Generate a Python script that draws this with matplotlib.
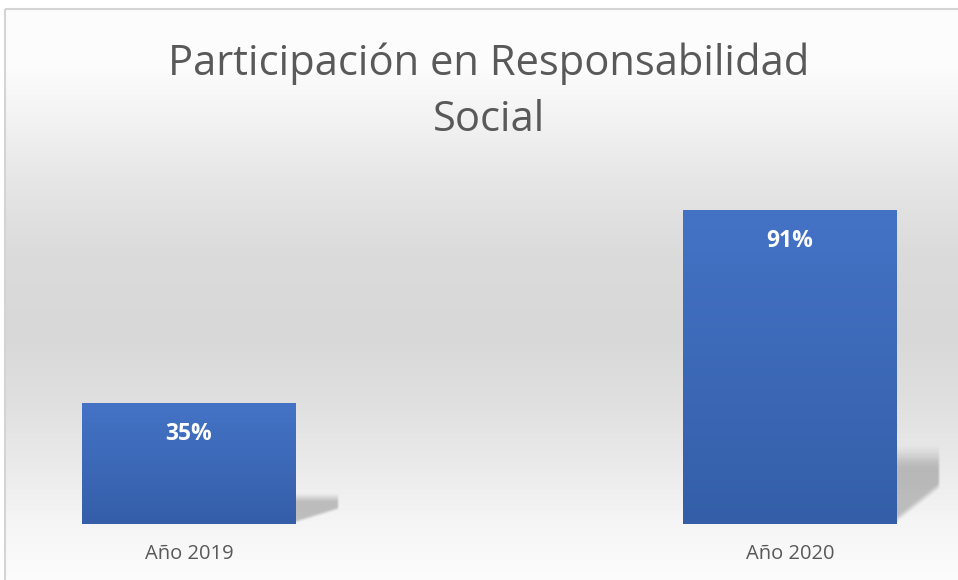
import numpy as np
import matplotlib
matplotlib.use("Agg")
import matplotlib.pyplot as plt
from matplotlib.patches import Rectangle

categories = ["Año 2019", "Año 2020"]
values = [35, 91]
labels = ["35%", "91%"]
title = "Participación en Responsabilidad\nSocial"

W, H = 958, 580
fig = plt.figure(figsize=(W / 100, H / 100), dpi=100)

# background gradient (white -> gray -> white), inside the chart border
bg = fig.add_axes([0, 0, 1, 1], zorder=0)
bg.set_xlim(0, W)
bg.set_ylim(H, 0)
bg.axis("off")
ys = np.array([0, 60, 120, 180, 250, 330, 400, 460, 520, 560, 580])
gs = np.array([253, 252, 241, 229, 219, 216, 224, 234, 245, 250, 252]) / 255
col = np.interp(np.arange(H), ys, gs)
img = np.repeat(col[:, None], 2, axis=1)
bg.imshow(np.dstack([img, img, img]), extent=[5, W, H, 9], aspect="auto",
          interpolation="bilinear")
bg.add_patch(Rectangle((5, 9), W + 10, H + 10, fill=False,
                       edgecolor="#d4d4d4", linewidth=1.5))

# main axes mapped so the bars land where they are in the reference
ax = fig.add_axes([0, 0, 1, 1], zorder=1)
ax.patch.set_alpha(0)
ax.axis("off")

x = np.arange(len(categories))
width = 0.356
bars = ax.bar(x, values, width=width, color="none", zorder=3)

t = np.linspace(0, 1, 256)[:, None]
top_c = np.array([68, 115, 198]) / 255
bot_c = np.array([52, 94, 168]) / 255
grad = top_c[None, None, :] * (1 - t[:, :, None]) + bot_c[None, None, :] * t[:, :, None]
grad = np.repeat(grad, 2, axis=1)


def smooth(z):
    z = np.clip(z, 0, 1)
    return z * z * (3 - 2 * z)


for b, v, lab in zip(bars, values, labels):
    x0 = b.get_x()
    x1 = x0 + b.get_width()
    # perspective shadow to the lower right of the bar
    sh_w = 0.072
    top = 0.26 * v
    low = 0.11 * v
    u = np.linspace(0, 1, 120)[None, :]
    yy = np.linspace(0, top * 1.15, 200)[:, None]
    a_top = smooth((top - yy) / (0.09 * v))
    a_bot = smooth((yy - low * u) / (0.025 * v + 0.5))
    a_right = smooth((1 - u) / 0.08)
    alpha = 0.22 * a_top * a_bot * a_right
    rgba = np.zeros(alpha.shape + (4,))
    rgba[..., 3] = alpha
    ax.imshow(rgba, extent=[x1, x1 + sh_w, 0, top * 1.15], origin="lower",
              aspect="auto", interpolation="bilinear", zorder=2)

    im = ax.imshow(grad, extent=[x0, x1, 0, v], aspect="auto",
                   interpolation="bilinear", zorder=3)
    clip = Rectangle((x0, 0), b.get_width(), v, transform=ax.transData)
    im.set_clip_path(clip)
    ax.text(b.get_x() + b.get_width() / 2, v - 9, lab, ha="center",
            va="center", color="white", fontsize=16.5, fontweight="bold",
            family="Open Sans", zorder=4)

for xi, cat in zip(x, categories):
    ax.text(xi, -8.6, cat, ha="center", va="center", color="#595959",
            fontsize=14.5, family="Open Sans")

fig.text(489 / W, 1 - 92 / H, title, ha="center", va="center",
         color="#595959", fontsize=30, family="Open Sans",
         linespacing=1.45)

ax.set_xlim(-0.3145, 1.2795)
ax.set_ylim(-16.2, 151.9)
fig.savefig("out.png", dpi=100)
